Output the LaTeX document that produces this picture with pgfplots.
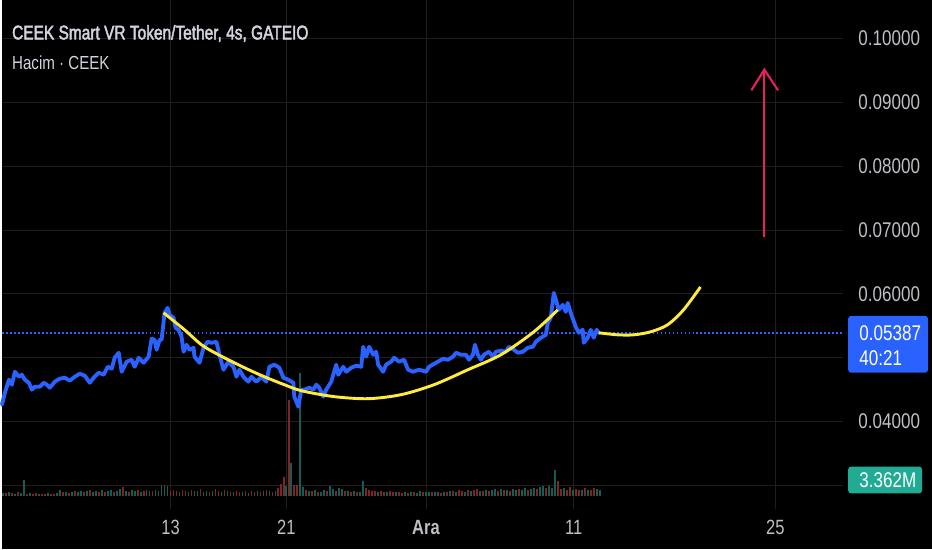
\documentclass[border=0pt]{standalone}
\usepackage{pgfplots}
\pgfplotsset{compat=1.18}
\usepackage{fontspec}
\setmainfont{Liberation Sans}
\newfontfamily\tvfont{Liberation Sans}[FakeStretch=0.8]
\newfontfamily\tvtitle{Liberation Sans}[FakeStretch=0.78, FakeBold=2.2]
\definecolor{gridc}{RGB}{30,30,30}
\definecolor{txt}{RGB}{190,192,198}
\definecolor{titlec}{RGB}{209,212,220}
\definecolor{tvblue}{RGB}{41,98,255}
\definecolor{tvyellow}{RGB}{255,235,59}
\definecolor{tvpink}{RGB}{233,30,99}
\definecolor{volg}{RGB}{20,92,84}
\definecolor{volr}{RGB}{124,38,38}
\definecolor{boxteal}{RGB}{34,171,148}
\begin{document}
\begin{tikzpicture}
\fill[black] (0,0) rectangle (699pt,-412.5pt);
\pgfplotsset{tv/.style={scale only axis, width=632.25pt, height=382.5pt, at={(0,0)}, anchor=north west, xmin=0, xmax=843}}
% grid and labels
\begin{axis}[tv, ymin=0.02625, ymax=0.1059375,
  axis line style={draw=none}, major tick length=0pt,
  grid=major, grid style={draw=gridc, line width=0.75pt},
  xtick={169,285,425,573,775}, xticklabels={13,21,\textbf{Ara},11,25},
  xticklabel style={anchor=center, inner sep=0pt, yshift=-13.5pt, font=\tvfont\fontsize{15.5}{16}\selectfont, text=txt},
  ytick={0.03,0.04,0.05,0.06,0.07,0.08,0.09,0.10},
  yticklabels={{},0.04000,{},0.06000,0.07000,0.08000,0.09000,0.10000},
  yticklabel pos=right,
  yticklabel style={anchor=west, inner sep=0pt, xshift=11.25pt, font=\tvfont\fontsize{16}{16}\selectfont, text=txt},
]
\addplot[draw=none] coordinates {(0,0.05)};
\end{axis}
% volume
\begin{axis}[tv, ymin=-6.5, ymax=248.5, hide axis]
\addplot[ycomb, draw=volg, line width=1.3pt] coordinates {
(1,1.8)(7,2.0)(13,1.4)(19,1.7)(22,8.5)(28,1.5)(37,1.2)(46,1.5)(55,1.6)(58,3.2)(64,2.4)(70,2.0)(76,2.2)(79,2.8)(85,2.5)(91,2.2)(94,2.9)(100,3.1)(106,2.6)(109,3.4)(115,2.9)(118,3.6)(124,2.8)(130,3.0)(133,2.6)(139,2.4)(145,3.3)(148,2.5)(154,3.0)(157,2.6)(160,5.5)(163,5.8)(166,5.2)(178,2.2)(187,2.0)(193,2.5)(196,2.8)(202,2.4)(205,2.9)(211,2.7)(220,2.0)(226,2.6)(232,2.1)(241,2.2)(247,1.9)(256,2.7)(262,2.9)(268,2.6)(274,2.8)(285,5.0)(290,17.0)(299,62.0)(302,4.5)(308,2.5)(314,3.0)(320,2.2)(323,3.4)(329,5.0)(332,3.6)(338,4.2)(341,3.8)(347,2.6)(353,2.5)(359,2.0)(362,8.0)(377,2.4)(386,2.2)(395,2.0)(404,2.2)(410,2.4)(416,1.9)(419,2.5)(425,2.3)(428,2.0)(434,2.4)(437,2.1)(443,2.3)(449,2.5)(455,2.4)(464,2.2)(470,2.7)(479,2.6)(485,3.2)(491,3.1)(494,3.5)(500,3.6)(506,3.2)(512,3.8)(515,3.0)(521,3.4)(524,4.0)(530,3.8)(533,4.4)(539,4.6)(542,5.2)(548,5.0)(551,4.4)(554,13.5)(563,4.2)(572,3.2)(581,3.4)(587,3.2)(596,3.6)(599,3.362)};
\addplot[ycomb, draw=volr, line width=1.3pt] coordinates {
(4,1.5)(10,1.6)(16,2.2)(25,1.2)(31,1.3)(34,1.6)(40,1.4)(43,1.1)(49,1.3)(52,1.2)(61,2.1)(67,1.8)(73,2.6)(82,2.0)(88,3.0)(97,2.4)(103,2.0)(112,2.2)(121,4.5)(127,2.3)(136,3.2)(142,2.8)(151,2.7)(169,2.5)(172,3.0)(175,2.8)(181,3.4)(184,2.6)(190,3.2)(199,3.6)(208,2.2)(214,3.5)(217,2.8)(223,3.0)(229,2.3)(235,2.8)(238,2.4)(244,2.6)(250,2.5)(253,2.1)(259,2.4)(265,3.1)(271,2.3)(277,4.0)(280,6.5)(282.5,10.0)(288,48.5)(293,5.5)(295.5,6.0)(305,3.2)(311,2.8)(317,2.4)(326,2.6)(335,2.8)(344,2.9)(350,2.4)(356,2.2)(365,4.0)(368,3.2)(371,2.8)(374,2.6)(380,2.5)(383,2.3)(389,2.6)(392,2.4)(398,2.3)(401,1.9)(407,1.8)(413,2.0)(422,2.1)(431,2.2)(440,1.9)(446,2.2)(452,2.8)(458,3.0)(461,2.6)(467,3.4)(473,3.0)(476,3.8)(482,2.8)(488,2.5)(497,2.8)(503,3.0)(509,2.6)(518,3.6)(527,3.0)(536,3.6)(545,4.0)(557,8.0)(560,3.6)(566,3.4)(569,4.6)(575,3.8)(578,3.0)(584,4.0)(590,3.4)(593,4.2)};
\end{axis}
% price
\begin{axis}[tv, ymin=0.02625, ymax=0.1059375, hide axis, clip=false]
\addplot[tvblue, line width=1.1pt, dash pattern=on 1.4pt off 1.6pt] coordinates {(0,0.05387)(843,0.05387)};
\addplot[tvblue, line width=2.9pt, line join=round, line cap=round] coordinates {
(0,0.04266)(3,0.04453)(7,0.04656)(10,0.04578)(13,0.04781)(17,0.04703)(20,0.04734)(23,0.04656)(27,0.04609)(30,0.04500)(33,0.04547)(38,0.04547)(42,0.04609)(45,0.04578)(48,0.04531)(53,0.04625)(58,0.04672)(63,0.04688)(68,0.04641)(73,0.04703)(78,0.04750)(83,0.04719)(88,0.04609)(92,0.04688)(97,0.04766)(102,0.04734)(106,0.04859)(110,0.04828)(113,0.05000)(117,0.05078)(120,0.04781)(125,0.04938)(130,0.04969)(133,0.04859)(137,0.05000)(142,0.04922)(147,0.05016)(150,0.05297)(153,0.05281)(155,0.05125)(158,0.05281)
(160,0.05281)(163,0.05703)(166,0.05781)(168,0.05672)(172,0.05625)(174,0.05469)(177,0.05438)(180,0.05328)(182,0.05094)(185,0.05203)(188,0.05125)(192,0.05156)(193,0.05016)(198,0.04922)(202,0.05156)(206,0.05250)(210,0.05234)(215,0.05250)(218,0.05047)(222,0.04813)(227,0.04938)(232,0.04859)(235,0.04703)(238,0.04813)(242,0.04703)(247,0.04625)(250,0.04703)(255,0.04625)(260,0.04703)(265,0.04625)(268,0.04859)(273,0.04891)(278,0.04844)(282,0.04688)(287,0.04656)(292,0.04609)(293,0.04391)(297,0.04234)(300,0.04500)
(303,0.04500)(308,0.04531)(312,0.04500)(315,0.04578)(318,0.04531)(322,0.04391)(325,0.04500)(330,0.04625)(335,0.04891)(337,0.04734)(342,0.04859)(345,0.04781)(350,0.04844)(355,0.04875)(360,0.04859)(362,0.05172)(365,0.05016)(368,0.05172)(372,0.05047)(375,0.05094)(377,0.04891)(382,0.04781)(385,0.04891)(390,0.04938)(393,0.05000)(398,0.04938)(403,0.04969)(407,0.04813)(412,0.04781)(418,0.04813)(425,0.04781)(428,0.04859)(435,0.04922)(442,0.04984)(447,0.04969)(452,0.05016)(455,0.05078)(460,0.05047)
(465,0.05047)(468,0.04969)(472,0.05047)(474,0.05203)(477,0.05047)(480,0.04969)(483,0.05047)(488,0.05094)(492,0.05016)(495,0.05094)(500,0.05109)(505,0.05094)(508,0.05172)(513,0.05125)(517,0.05078)(522,0.05094)(527,0.05156)(532,0.05172)(535,0.05250)(540,0.05313)(545,0.05359)(547,0.05547)(550,0.05625)(553,0.06016)(556,0.05859)(558,0.05750)(562,0.05828)(565,0.05719)(567,0.05859)(570,0.05703)(575,0.05484)(578,0.05391)(582,0.05438)(583,0.05234)(587,0.05313)(590,0.05438)(593,0.05313)(596,0.05438)(598,0.05387)};
\addplot[tvyellow, line width=2.2pt, smooth] coordinates {
(162,0.05703)(183,0.05438)(200,0.05203)(217,0.05047)(243,0.04844)(263,0.04703)(283,0.04578)(300,0.04484)(333,0.04391)(367,0.04359)(400,0.04422)(433,0.04578)(467,0.04813)(500,0.05047)(533,0.05406)(557,0.05750)};
\addplot[tvyellow, line width=2.2pt, smooth] coordinates {
(598,0.05391)(617,0.05359)(633,0.05359)(650,0.05406)(667,0.05516)(683,0.05750)(700,0.06109)};
\addplot[tvpink, line width=1.6pt] coordinates {(764,0.06895)(764,0.09480)};
\addplot[tvpink, line width=1.6pt, line join=miter] coordinates {(751,0.09188)(764,0.09511)(777.7,0.09188)};
\end{axis}
\begin{scope}[x=0.75pt, y=-0.75pt]
\node[anchor=base west, inner sep=0pt, text=titlec, font=\tvtitle\fontsize{14.9}{16}\selectfont] at (10,39) {CEEK Smart VR Token/Tether, 4s, GATEIO};
\node[anchor=base west, inner sep=0pt, text=titlec, font=\tvfont\fontsize{14.2}{16}\selectfont] at (10,69) {Hacim · CEEK};
\fill[tvblue, rounded corners=2.25pt] (848,316) rectangle (928,373);
\node[anchor=west, inner sep=0pt, text=white, font=\tvfont\fontsize{16}{16}\selectfont] at (859,333) {0.05387};
\node[anchor=west, inner sep=0pt, text=white, font=\tvfont\fontsize{16}{16}\selectfont] at (859,358) {40:21};
\fill[boxteal, rounded corners=2.25pt] (848,467) rectangle (922,494);
\node[anchor=west, inner sep=0pt, text=white, font=\tvfont\fontsize{16}{16}\selectfont] at (859,480.5) {3.362M};
\end{scope}
\end{tikzpicture}
\end{document}
